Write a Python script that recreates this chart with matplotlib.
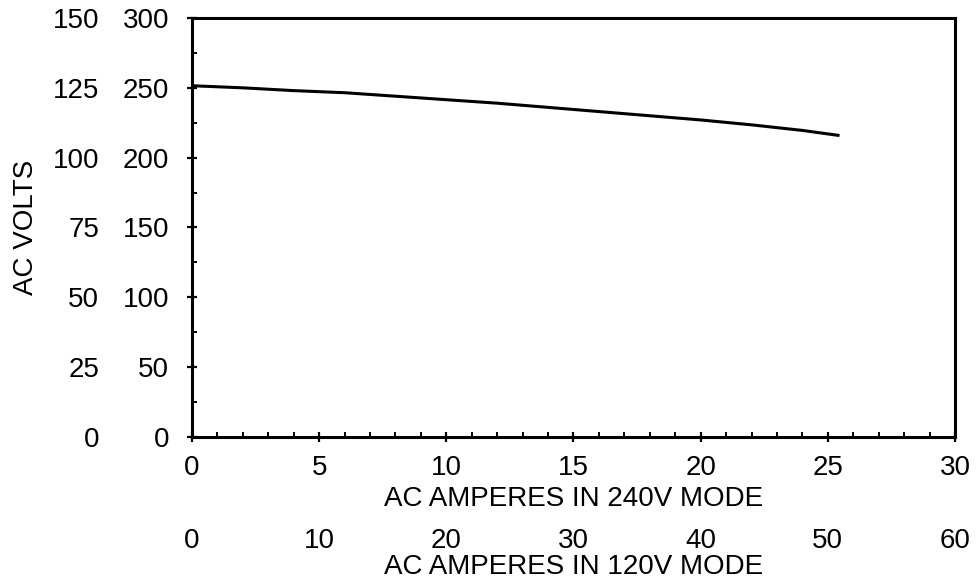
import numpy as np
import matplotlib
matplotlib.use("Agg")
import matplotlib.pyplot as plt
from matplotlib.ticker import MultipleLocator

plt.rcParams['font.family'] = ['Liberation Sans', 'DejaVu Sans']
plt.rcParams['font.size'] = 20

# data (240V mode amps vs AC volts)
amps = [0, 2, 4, 6, 8, 10, 12, 14, 16, 18, 20, 22, 24, 25.4]
volts = [251.5, 250, 248, 246.5, 244, 241.5, 239, 236, 233, 230, 227, 223.5, 219.5, 216]

x_ticks = [0, 5, 10, 15, 20, 25, 30]
x2_ticks = [0, 10, 20, 30, 40, 50, 60]
y_ticks = [0, 50, 100, 150, 200, 250, 300]
y2_ticks = [0, 25, 50, 75, 100, 125, 150]

fig = plt.figure(figsize=(9.76, 5.88), dpi=100)
ax = fig.add_axes([0.1967, 0.2568, 0.7818, 0.7126])

ax.plot(amps, volts, color='black', lw=2.2)

ax.set_xlim(0, 30)
ax.set_ylim(0, 300)
ax.set_xticks(x_ticks)
ax.set_yticks(y_ticks)
ax.xaxis.set_minor_locator(MultipleLocator(1))
ax.yaxis.set_minor_locator(MultipleLocator(25))
for s in ax.spines.values():
    s.set_linewidth(2.2)
ax.tick_params(which='major', direction='inout', length=7.2, width=1.6, labelsize=20)
ax.tick_params(which='minor', direction='in', length=3.6, width=1.4)
ax.tick_params(axis='x', pad=9)
ax.tick_params(axis='y', pad=13)
ax.set_xlabel("AC AMPERES IN 240V MODE", labelpad=4, fontsize=20)

# second x scale (120V mode)
ax2 = ax.secondary_xaxis(-0.217, functions=(lambda x: x * 2, lambda x: x / 2))
ax2.set_xticks(x2_ticks)
ax2.spines['bottom'].set_visible(False)
ax2.tick_params(length=0, pad=0, labelsize=20)
ax2.set_xlabel("AC AMPERES IN 120V MODE", labelpad=0, fontsize=20)

# second y scale (120V mode volts)
ay2 = ax.secondary_yaxis(-0.118, functions=(lambda y: y / 2, lambda y: y * 2))
ay2.set_yticks(y2_ticks)
ay2.spines['left'].set_visible(False)
ay2.tick_params(length=0, pad=2, labelsize=20)
ay2.set_ylabel("AC VOLTS", labelpad=10, fontsize=20)

fig.savefig("out.png", dpi=100)
